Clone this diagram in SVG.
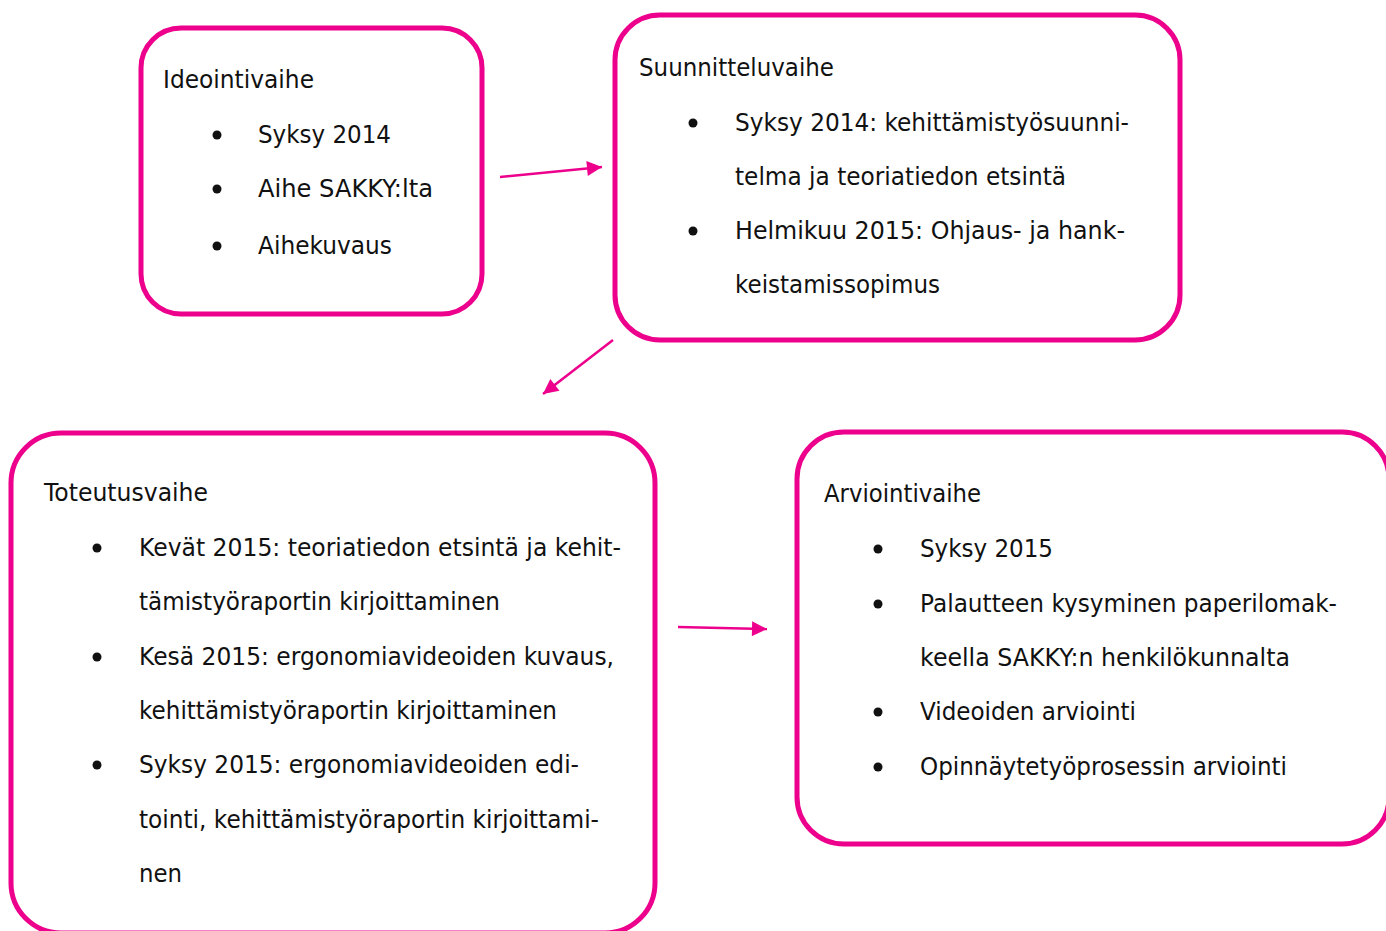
<svg xmlns="http://www.w3.org/2000/svg" width="1386" height="931" viewBox="0 0 1386 931">
<style>
.box{fill:#fff;stroke:#EC008C;stroke-width:5}
.t{font-family:"DejaVu Sans",Verdana,sans-serif;font-size:24px;fill:#111}
.b{fill:#111}
.c{stroke:#EC008C;stroke-width:2.5;fill:none}
</style>
<defs>
<marker id="ah" viewBox="0 0 10 10" refX="10" refY="5" markerWidth="7" markerHeight="6" markerUnits="strokeWidth" orient="auto">
<path d="M0,0 L10,5 L0,10 z" fill="#EC008C"/>
</marker>
</defs>
<rect width="1386" height="931" fill="#fff"/>
<g id="ideointi">
<rect class="box" x="141" y="28" width="341" height="286" rx="40"/>
<text class="t" x="163" y="88" textLength="151" lengthAdjust="spacingAndGlyphs">Ideointivaihe</text>
<circle class="b" cx="217" cy="135" r="4.5"/><text class="t" x="258" y="143" textLength="133" lengthAdjust="spacingAndGlyphs">Syksy 2014</text>
<circle class="b" cx="217" cy="189" r="4.5"/><text class="t" x="258" y="197" textLength="175" lengthAdjust="spacingAndGlyphs">Aihe SAKKY:lta</text>
<circle class="b" cx="217" cy="246" r="4.5"/><text class="t" x="258" y="254" textLength="134" lengthAdjust="spacingAndGlyphs">Aihekuvaus</text>
</g>
<g id="suunnittelu">
<rect class="box" x="615" y="15" width="565" height="325" rx="45"/>
<text class="t" x="639" y="76" textLength="195" lengthAdjust="spacingAndGlyphs">Suunnitteluvaihe</text>
<circle class="b" cx="693" cy="123" r="4.5"/><text class="t" x="735" y="131" textLength="394" lengthAdjust="spacingAndGlyphs">Syksy 2014: kehittämistyösuunni-</text>
<text class="t" x="735" y="185" textLength="331" lengthAdjust="spacingAndGlyphs">telma ja teoriatiedon etsintä</text>
<circle class="b" cx="693" cy="231" r="4.5"/><text class="t" x="735" y="239" textLength="390" lengthAdjust="spacingAndGlyphs">Helmikuu 2015: Ohjaus- ja hank-</text>
<text class="t" x="735" y="293" textLength="205" lengthAdjust="spacingAndGlyphs">keistamissopimus</text>
</g>
<g id="toteutus">
<rect class="box" x="11" y="433" width="644" height="500" rx="50"/>
<text class="t" x="44" y="501" textLength="164" lengthAdjust="spacingAndGlyphs">Toteutusvaihe</text>
<circle class="b" cx="97" cy="548" r="4.5"/><text class="t" x="139" y="556" textLength="482" lengthAdjust="spacingAndGlyphs">Kevät 2015: teoriatiedon etsintä ja kehit-</text>
<text class="t" x="139" y="610" textLength="361" lengthAdjust="spacingAndGlyphs">tämistyöraportin kirjoittaminen</text>
<circle class="b" cx="97" cy="657" r="4.5"/><text class="t" x="139" y="665" textLength="475" lengthAdjust="spacingAndGlyphs">Kesä 2015: ergonomiavideoiden kuvaus,</text>
<text class="t" x="139" y="719" textLength="418" lengthAdjust="spacingAndGlyphs">kehittämistyöraportin kirjoittaminen</text>
<circle class="b" cx="97" cy="765" r="4.5"/><text class="t" x="139" y="773" textLength="440" lengthAdjust="spacingAndGlyphs">Syksy 2015: ergonomiavideoiden edi-</text>
<text class="t" x="139" y="828" textLength="460" lengthAdjust="spacingAndGlyphs">tointi, kehittämistyöraportin kirjoittami-</text>
<text class="t" x="139" y="882" textLength="43" lengthAdjust="spacingAndGlyphs">nen</text>
</g>
<g id="arviointi">
<rect class="box" x="797" y="432" width="592" height="412" rx="47"/>
<text class="t" x="824" y="502" textLength="157" lengthAdjust="spacingAndGlyphs">Arviointivaihe</text>
<circle class="b" cx="878" cy="549" r="4.5"/><text class="t" x="920" y="557" textLength="133" lengthAdjust="spacingAndGlyphs">Syksy 2015</text>
<circle class="b" cx="878" cy="604" r="4.5"/><text class="t" x="920" y="612" textLength="417" lengthAdjust="spacingAndGlyphs">Palautteen kysyminen paperilomak-</text>
<text class="t" x="920" y="666" textLength="370" lengthAdjust="spacingAndGlyphs">keella SAKKY:n henkilökunnalta</text>
<circle class="b" cx="878" cy="712" r="4.5"/><text class="t" x="920" y="720" textLength="216" lengthAdjust="spacingAndGlyphs">Videoiden arviointi</text>
<circle class="b" cx="878" cy="767" r="4.5"/><text class="t" x="920" y="775" textLength="367" lengthAdjust="spacingAndGlyphs">Opinnäytetyöprosessin arviointi</text>
</g>
<g id="connectors">
<line class="c" x1="500" y1="177" x2="602" y2="167" marker-end="url(#ah)"/>
<line class="c" x1="613" y1="340" x2="543" y2="394" marker-end="url(#ah)"/>
<line class="c" x1="678" y1="627" x2="767" y2="629" marker-end="url(#ah)"/>
</g>
</svg>
